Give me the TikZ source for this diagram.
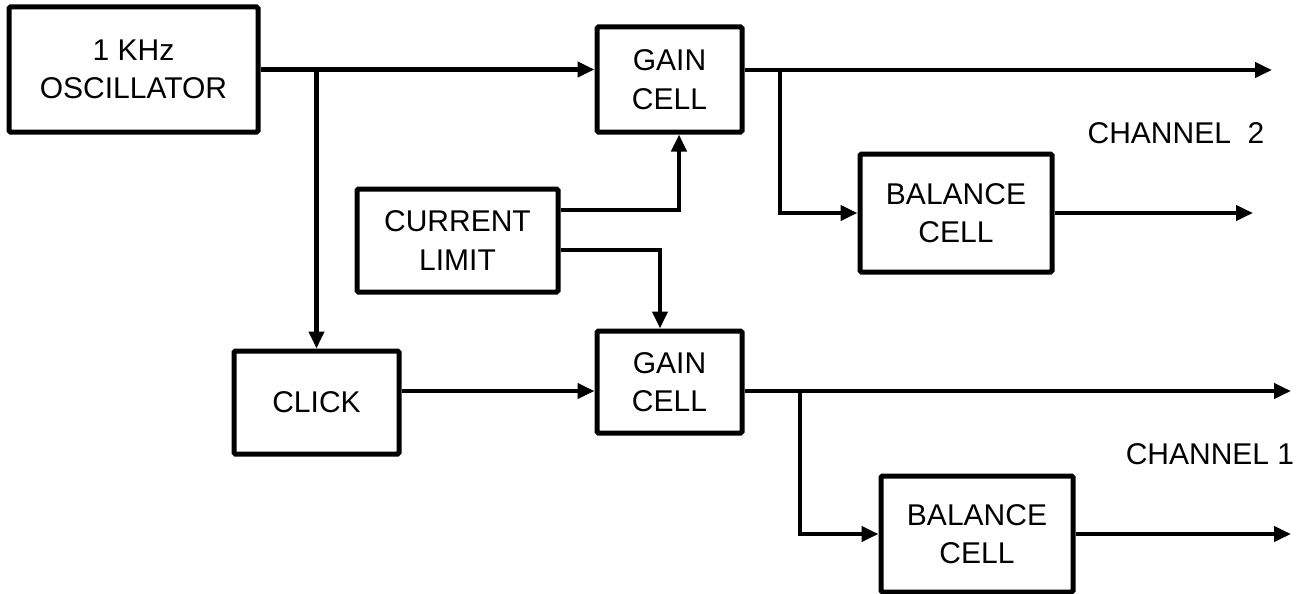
\documentclass[tikz,border=0pt]{standalone}
\usepackage{fontspec}
\setmainfont{Liberation Sans}
\usetikzlibrary{arrows.meta}
\begin{document}
\begin{tikzpicture}[x=1pt,y=1pt,
  blk/.style={draw, line width=5pt, rounded corners=1.5pt, align=center, inner sep=0pt,
    font=\fontsize{30}{38.5}\selectfont},
  conn/.style={line width=4.2pt},
  arr/.style={conn, -{Triangle[length=17pt,width=15pt]}},
  lbl/.style={font=\fontsize{30}{38}\selectfont, inner sep=0pt}]
\useasboundingbox (0,0) rectangle (1296,-594);
% blocks
\node[blk, minimum width=249pt, minimum height=125pt] (osc) at (133.5,-69.5) {1 KHz\\OSCILLATOR};
\node[blk, minimum width=145pt, minimum height=105pt] (gainT) at (669.5,-79.5) {GAIN\\CELL};
\node[blk, minimum width=201pt, minimum height=103pt] (cur) at (457.5,-240.5) {CURRENT\\LIMIT};
\node[blk, minimum width=192pt, minimum height=118pt] (balT) at (956,-213) {BALANCE\\CELL};
\node[blk, minimum width=165pt, minimum height=103pt] (click) at (316.5,-402.5) {CLICK};
\node[blk, minimum width=145pt, minimum height=102pt] (gainB) at (669.5,-382) {GAIN\\CELL};
\node[blk, minimum width=192pt, minimum height=116pt] (balB) at (977,-534) {BALANCE\\CELL};
% labels
\node[lbl] (ch2) at (1176,-133) {CHANNEL\ \ 2};
\node[lbl] (ch1) at (1210,-454) {CHANNEL 1};
% free ends and junctions
\coordinate (o2) at (1272,-70);
\coordinate (jT) at (780,-70);
\coordinate (b2) at (1253,-213);
\coordinate (lineB) at (0,-391);
\coordinate (o1) at (1291,-391);
\coordinate (jB) at (800,-391);
\coordinate (b1) at (1291,-534);
% connectors
\draw[arr] (osc.east) -- (osc.east -| gainT.west);
\draw[arr] (click.north |- osc.east) -- (click.north);
\draw[arr] (gainT.east |- o2) -- (o2);
\draw[arr] (jT) |- (balT.west);
\draw[arr] (balT.east) -- (b2);
\draw[arr] ([yshift=30.5pt]cur.east) -| ([xshift=9.5pt]gainT.south);
\draw[arr] ([yshift=-9.5pt]cur.east) -| ([xshift=-9.5pt]gainB.north);
\draw[arr] (click.east |- lineB) -- (gainB.west |- lineB);
\draw[arr] (gainB.east |- lineB) -- (o1);
\draw[arr] (jB) |- (balB.west);
\draw[arr] (balB.east) -- (b1);
\end{tikzpicture}
\end{document}
